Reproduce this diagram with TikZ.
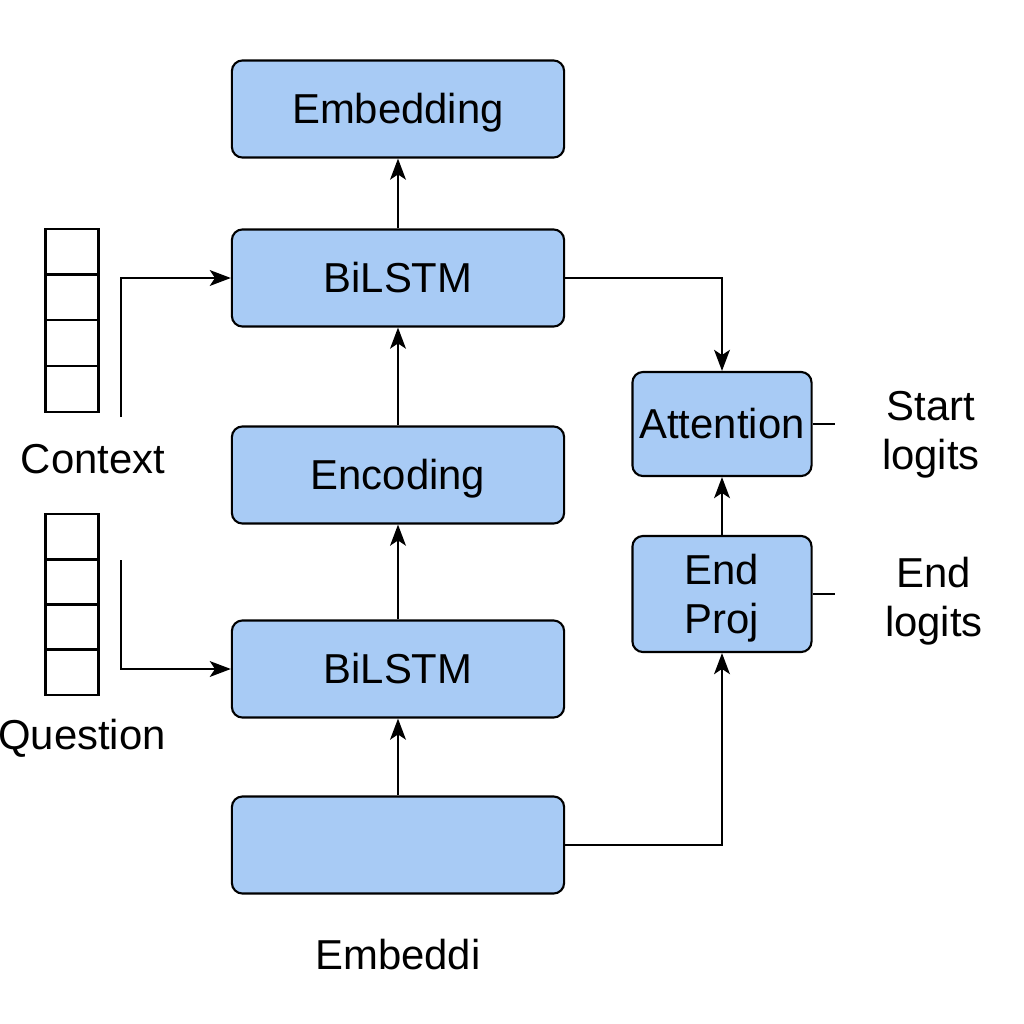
\documentclass[tikz,border=0pt]{standalone}
\usepackage{fontspec}
\setmainfont{Liberation Sans}
\usetikzlibrary{arrows.meta}
\definecolor{boxblue}{HTML}{A8CBF5}
\begin{document}
\begin{tikzpicture}[x=0.01cm,y=-0.01cm,
  every node/.style={font=\fontsize{11.9}{14}\selectfont},
  blk/.style={draw=black,line width=0.6pt,fill=boxblue,rounded corners=3pt,inner sep=0pt},
  one/.style={text height=8.5pt,text depth=0pt},
  wide/.style={blk,one,minimum width=3.32cm,minimum height=0.97cm},
  narrow/.style={blk,minimum width=1.79cm},
  cell/.style={draw=black,line width=0.6pt,minimum width=0.53cm,minimum height=0.455cm,inner sep=0pt},
  lbl/.style={align=center,inner sep=0pt},
  conn/.style={line width=0.6pt,-{Stealth[length=6pt,width=4.5pt,inset=1.5pt]}},
  plain/.style={line width=0.6pt}]
\useasboundingbox (0,0) rectangle (1024,1024);
% main column
\node[wide] (emb)  at (398,109) {Embedding};
\node[wide] (bil1) at (398,278) {BiLSTM};
\node[wide] (enc)  at (398,475) {Encoding};
\node[wide] (bil2) at (398,669) {BiLSTM};
\node[wide] (emb2) at (398,845) {};
\node[lbl] (embl) at (398,955) {Embeddi};
% right column
\node[narrow,one,minimum height=1.04cm] (att) at (722,424) {Attention};
\node[narrow,minimum height=1.16cm,align=center,text depth=0pt] (proj) at (722,594) {End\\Proj};
\node[lbl] (startl) at (931,435) {Start\\logits};
\node[lbl] (endl) at (934,601) {End\\logits};
% stacks
\foreach \i/\y in {1/252,2/297,3/343,4/389}{\node[cell] (c\i) at (72,\y) {};}
\foreach \i/\y in {1/537,2/582,3/627,4/672}{\node[cell] (q\i) at (72,\y) {};}
\node[lbl] (ctxl) at (93,459) {Context};
\node[lbl] (qstl) at (82,738) {Question};
% coordinates
\coordinate (cstart) at (121,417);
\coordinate (qstart) at (121,560);
\coordinate (attend) at (835,422);
\coordinate (projend) at (835,589);
% connectors
\draw[conn] (emb2) -- (bil2);
\draw[conn] (bil2) -- (enc);
\draw[conn] (enc) -- (bil1);
\draw[conn] (bil1) -- (emb);
\draw[conn] (bil1.east) -| (att.north);
\draw[conn] (emb2.east) -| (proj.south);
\draw[conn] (proj) -- (att);
\draw[conn] (cstart) |- (bil1.west);
\draw[conn] (qstart) |- (bil2.west);
\draw[plain] (att.east) -- (att.east -| attend);
\draw[plain] (proj.east) -- (proj.east -| projend);
\end{tikzpicture}
\end{document}
